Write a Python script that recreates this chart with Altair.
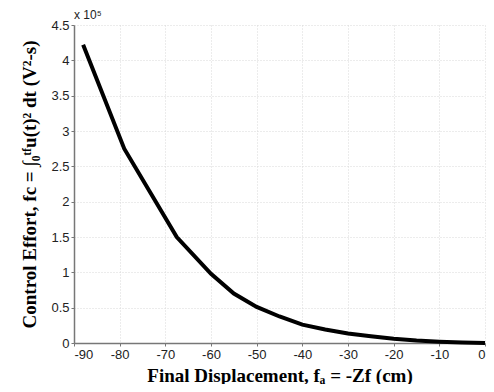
import altair as alt
import pandas as pd

displacement = [-88, -79, -67.5, -60, -55, -50, -45, -40, -35, -30, -25, -20, -15, -10, -5, 0]
effort_1e5 = [4.22, 2.75, 1.50, 0.98, 0.70, 0.51, 0.375, 0.26, 0.19, 0.135, 0.095, 0.06, 0.035, 0.018, 0.006, 0.0]

df = pd.DataFrame({"x": displacement, "y": effort_1e5})

x_title = "Final Displacement, fₐ = -Zf (cm)"
y_title = "Control Effort, fc = ∫₀ᵗᶠu(t)² dt (V²-s)"

axis_common = dict(
    labelFont="Liberation Sans", labelFontSize=13, labelColor="#222",
    titleFont="Liberation Serif", titleFontSize=19, titleFontWeight="bold", titleColor="#000",
    gridColor="#d8d8d8", gridDash=[1, 2], gridWidth=1,
    domainColor="#777", domainWidth=1.5, tickColor="#777", tickSize=3,
)

line = alt.Chart(df).mark_line(color="black", strokeWidth=4).encode(
    x=alt.X("x:Q", scale=alt.Scale(domain=[-90, 0], nice=False),
            axis=alt.Axis(title=x_title, values=list(range(-90, 1, 10)), titlePadding=5,
                          labelPadding=2,
                          labelExpr="datum.value < 0 ? '-' + format(-datum.value, 'd') : format(datum.value, 'd')",
                          **axis_common)),
    y=alt.Y("y:Q", scale=alt.Scale(domain=[0, 4.5], nice=False),
            axis=alt.Axis(title=y_title, values=[0, 0.5, 1, 1.5, 2, 2.5, 3, 3.5, 4, 4.5],
                          format="~g", titlePadding=11, labelPadding=2, **axis_common)),
)

exp_label = alt.Chart(pd.DataFrame({"t": ["x 10⁵"]})).mark_text(
    align="left", baseline="bottom", font="Liberation Sans", fontSize=12, color="#222"
).encode(x=alt.value(0), y=alt.value(-3), text="t:N")

chart = alt.layer(line, exp_label).properties(
    width=411, height=318,
    autosize=alt.AutoSizeParams(type="none"),
    padding={"left": 66, "top": 17, "right": 1, "bottom": 41},
).configure_view(stroke=None)

chart.save("out.html", embed_options={"renderer": "svg", "actions": False})
